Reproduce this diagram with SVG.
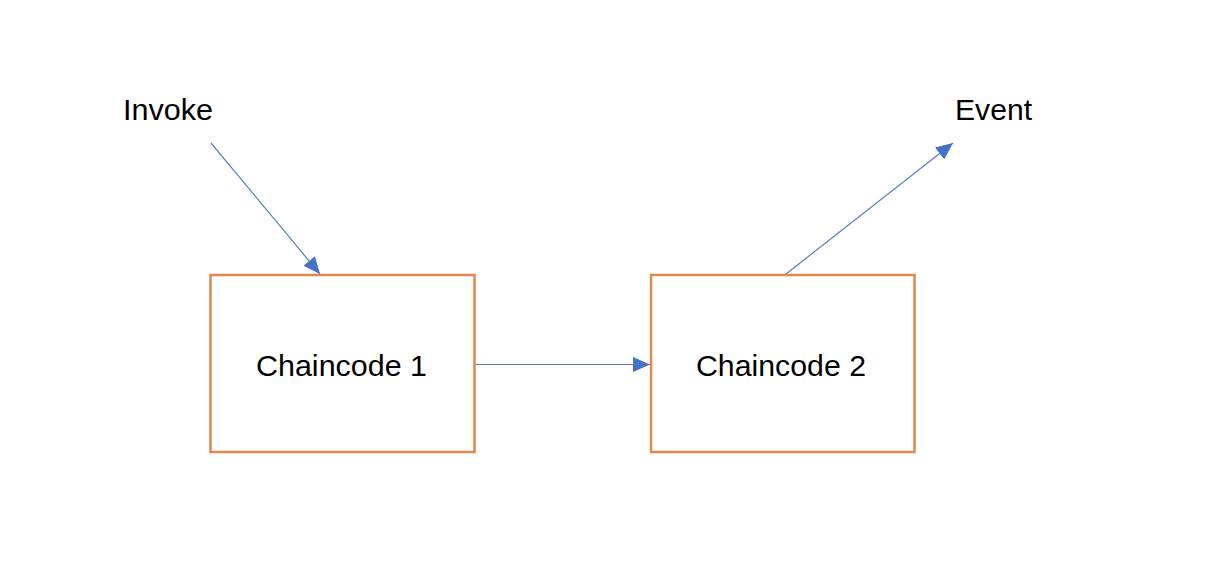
<svg xmlns="http://www.w3.org/2000/svg" width="1222" height="588" viewBox="0 0 1222 588">
  <defs>
    <marker id="arrow" viewBox="0 0 17 15" refX="17" refY="7.5" markerWidth="17" markerHeight="15" markerUnits="userSpaceOnUse" orient="auto">
      <path d="M0,0 L17,7.5 L0,15 Z" fill="#4472C4"/>
    </marker>
  </defs>
  <style>
    .box { fill: #FFFFFF; stroke: #E0894F; stroke-width: 2.5; }
    .label { font-family: "Liberation Sans", Arial, sans-serif; font-size: 30px; fill: #000000; }
    .conn { stroke: #5B7DC2; stroke-width: 1.2; fill: none; marker-end: url(#arrow); }
  </style>
  <rect width="1222" height="588" fill="#FFFFFF"/>
  <g id="connectors">
    <line class="conn" x1="211" y1="143" x2="320" y2="274"/>
    <line class="conn" x1="476" y1="364.5" x2="650" y2="364.5"/>
    <line class="conn" x1="786" y1="274" x2="953" y2="143"/>
  </g>
  <g id="invoke">
    <text class="label" x="123" y="120" textLength="90" lengthAdjust="spacingAndGlyphs">Invoke</text>
  </g>
  <g id="event">
    <text class="label" x="955" y="120" textLength="77" lengthAdjust="spacingAndGlyphs">Event</text>
  </g>
  <g id="chaincode1">
    <rect class="box" x="210.5" y="275" width="264" height="177"/>
    <text class="label" x="256" y="376" textLength="171" lengthAdjust="spacingAndGlyphs">Chaincode 1</text>
  </g>
  <g id="chaincode2">
    <rect class="box" x="651" y="275" width="263.5" height="177"/>
    <text class="label" x="696" y="376" textLength="170" lengthAdjust="spacingAndGlyphs">Chaincode 2</text>
  </g>
</svg>
